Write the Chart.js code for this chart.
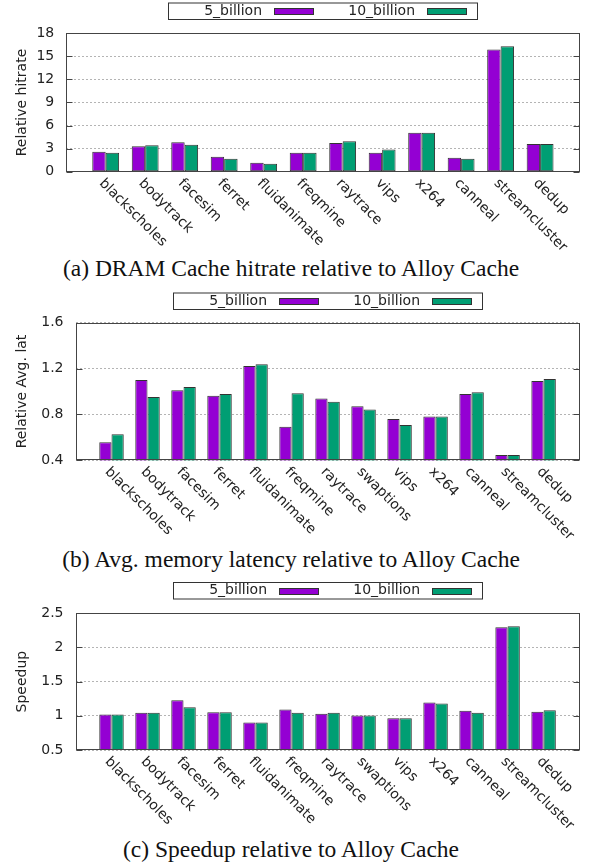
<!DOCTYPE html>
<html><head><meta charset="utf-8">
<script src="https://cdn.jsdelivr.net/npm/chart.js@4.4.1/dist/chart.umd.min.js"></script>
<style>
html,body{margin:0;padding:0;background:#fff;width:590px;height:863px;overflow:hidden}
canvas{position:absolute;left:0}
.cap{position:absolute;left:0;width:582px;text-align:center;font-family:"Liberation Serif","Times New Roman",serif;font-size:23.5px;line-height:23.5px;color:#111;white-space:nowrap}
</style></head><body>
<canvas id="ca" width="590" height="250" style="top:0px"></canvas>
<div class="cap" style="top:257px">(a) DRAM Cache hitrate relative to Alloy Cache</div>
<canvas id="cb" width="590" height="260" style="top:280px"></canvas>
<div class="cap" style="top:548px">(b) Avg. memory latency relative to Alloy Cache</div>
<canvas id="cc" width="590" height="260" style="top:570px"></canvas>
<div class="cap" style="top:838px">(c) Speedup relative to Alloy Cache</div>
<script>
// ---- data ----
const seriesNames = ['5_billion', '10_billion'];
const seriesColors = ['#9400d3', '#009e73'];

const categoriesA = ['blackscholes','bodytrack','facesim','ferret','fluidanimate','freqmine','raytrace','vips','x264','canneal','streamcluster','dedup'];
const hitrate5  = [2.6, 3.3, 3.82, 1.95, 1.17, 2.47, 3.73, 2.47, 5.07, 1.82, 15.9, 3.6];
const hitrate10 = [2.47, 3.43, 3.5, 1.7, 1.04, 2.47, 3.95, 2.9, 5.07, 1.7, 16.3, 3.6];
const ticksA = [0, 3, 6, 9, 12, 15, 18];
const tickLabelsA = ['0', '3', '6', '9', '12', '15', '18'];

const categoriesBC = ['blackscholes','bodytrack','facesim','ferret','fluidanimate','freqmine','raytrace','swaptions','vips','x264','canneal','streamcluster','dedup'];
const latency5  = [0.557, 1.10, 1.01, 0.964, 1.222, 0.693, 0.94, 0.871, 0.76, 0.783, 0.978, 0.446, 1.091];
const latency10 = [0.627, 0.952, 1.039, 0.978, 1.237, 0.984, 0.911, 0.844, 0.708, 0.783, 0.993, 0.446, 1.109];
const ticksB = [0.4, 0.8, 1.2, 1.6];
const tickLabelsB = ['0.4', '0.8', '1.2', '1.6'];

const speedup5  = [1.02, 1.044, 1.228, 1.053, 0.903, 1.092, 1.03, 1.005, 0.966, 1.194, 1.073, 2.296, 1.058];
const speedup10 = [1.02, 1.044, 1.126, 1.053, 0.903, 1.044, 1.044, 1.005, 0.966, 1.18, 1.044, 2.31, 1.082];
const ticksC = [0.5, 1, 1.5, 2, 2.5];
const tickLabelsC = ['0.5', '1', '1.5', '2', '2.5'];

// ---- drawing ----
const FONT = '"DejaVu Sans", Verdana, sans-serif';
const TXT = '#222';

function decoPlugin(cats, legendTop) {
  return {
    id: 'deco',
    afterDraw(chart) {
      const ctx = chart.ctx, a = chart.chartArea, x = chart.scales.x, y = chart.scales.y;
      ctx.save();
      ctx.strokeStyle = '#444';
      ctx.lineWidth = 1;
      const L = Math.round(a.left) + 0.5, R = Math.round(a.right) - 0.5;
      const T = Math.round(a.top) + 0.5, B = Math.round(a.bottom) - 0.5;
      ctx.strokeRect(L, T, R - L, B - T);
      ctx.beginPath();
      y.ticks.forEach((t, i) => {
        const py = Math.round(y.getPixelForTick(i)) + 0.5;
        ctx.moveTo(L, py); ctx.lineTo(L + 6, py);
        ctx.moveTo(R - 6, py); ctx.lineTo(R, py);
      });
      ctx.stroke();
      // category labels, rotated
      ctx.font = '14px ' + FONT;
      ctx.fillStyle = TXT;
      ctx.textAlign = 'left';
      ctx.textBaseline = 'alphabetic';
      cats.forEach((c, i) => {
        const px = x.getPixelForValue(i + 1);
        ctx.save();
        ctx.translate(px - 7, a.bottom + 12);
        ctx.rotate(Math.PI / 4);
        ctx.fillText(c, 0, 0);
        ctx.restore();
      });
      // legend
      const bw = 309, bh = 16.5;
      const bl = Math.round((a.left + a.right) / 2 - bw / 2) + 0.5;
      const bt = legendTop + 0.5;
      ctx.strokeStyle = '#333';
      ctx.strokeRect(bl, bt, bw, bh);
      ctx.textAlign = 'right';
      ctx.textBaseline = 'middle';
      seriesNames.forEach((n, i) => {
        const sx = Math.round(bl + 105 + i * 153.5);
        const sy = Math.round(bt + 5);
        ctx.fillStyle = seriesColors[i];
        ctx.fillRect(sx, sy, 40, 7);
        ctx.strokeStyle = '#333';
        ctx.strokeRect(sx + 0.5, sy + 0.5, 39, 6);
        ctx.fillStyle = TXT;
        ctx.fillText(n, sx - 12, bt + bh / 2);
      });
      ctx.restore();
    }
  };
}

function makeChart(id, cats, v5, v10, yTicks, yLabels, yTitle, lay) {
  const labels = [''].concat(cats, ['']);
  const pad = arr => [null].concat(arr, [null]);
  const ds = (i, vals) => ({
    label: seriesNames[i], data: pad(vals),
    backgroundColor: seriesColors[i], borderColor: '#333', borderWidth: 1,
    borderSkipped: false, categoryPercentage: 0.68, barPercentage: 1.0
  });
  return new Chart(document.getElementById(id), {
    type: 'bar',
    data: { labels, datasets: [ds(0, v5), ds(1, v10)] },
    options: {
      responsive: false, animation: false,
      layout: { padding: { top: lay.top, right: lay.right, left: 0, bottom: 0 } },
      plugins: { legend: { display: false }, tooltip: { enabled: false } },
      scales: {
        x: {
          type: 'category', offset: false,
          grid: { display: false }, border: { display: false },
          ticks: { display: false },
          afterFit(s) { s.height = lay.xh; }
        },
        y: {
          min: yTicks[0], max: yTicks[yTicks.length - 1],
          afterBuildTicks(s) { s.ticks = yTicks.map(v => ({ value: v })); },
          ticks: {
            font: { family: FONT, size: 14 }, color: TXT, padding: 12,
            callback: (v, i) => yLabels[i]
          },
          grid: { color: '#b4b4b4', lineWidth: 1, drawTicks: false },
          border: { display: false, dash: [2, 2] },
          title: {
            display: true, text: yTitle, color: TXT,
            font: { family: FONT, size: 14 }, padding: { top: 13.5, bottom: 0 }
          },
          afterFit(s) { s.width = lay.yw; }
        }
      }
    },
    plugins: [decoPlugin(cats, lay.legendTop)]
  });
}

makeChart('ca', categoriesA, hitrate5, hitrate10, ticksA, tickLabelsA, 'Relative hitrate',
  { top: 33.3, right: 10.4, yw: 66.2, xh: 250 - 171.7, legendTop: 2.5 });
makeChart('cb', categoriesBC, latency5, latency10, ticksB, tickLabelsB, 'Relative Avg. lat',
  { top: 42.7, right: 10.4, yw: 75.5, xh: 260 - 180.3, legendTop: 12.5 });
makeChart('cc', categoriesBC, speedup5, speedup10, ticksC, tickLabelsC, 'Speedup',
  { top: 43.3, right: 10.4, yw: 75.5, xh: 260 - 180, legendTop: 12 });
</script>
</body></html>
